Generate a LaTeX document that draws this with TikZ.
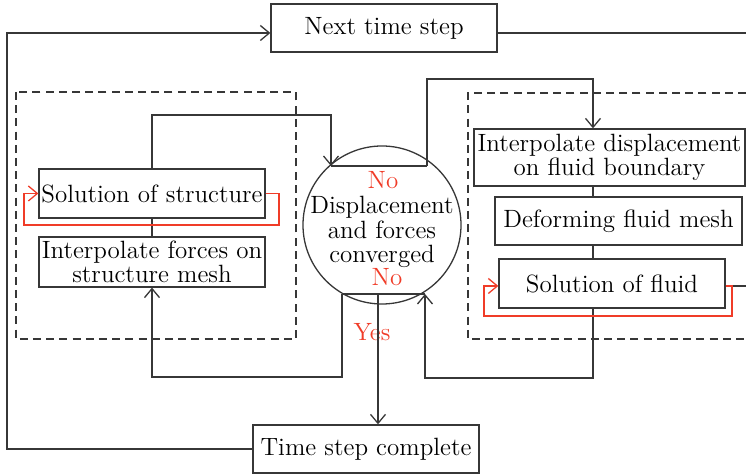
\documentclass[tikz,border=0pt]{standalone}
\usetikzlibrary{arrows.meta}
\definecolor{linec}{RGB}{55,55,55}
\definecolor{redc}{RGB}{240,60,40}
\tikzset{
  txt/.style={font=\fontsize{12.5}{12.2}\selectfont, align=center, inner sep=0pt},
  box/.style={txt, draw=linec, line width=0.65pt},
  conn/.style={draw=linec, line width=0.65pt},
  arr/.style={conn, -{Straight Barb[length=4.5pt,width=7.5pt]}},
  redarr/.style={draw=redc, line width=0.65pt, -{Straight Barb[length=4.5pt,width=7.5pt]}},
  dashbox/.style={draw=linec, line width=0.65pt, dash pattern=on 4pt off 2.6pt},
  redtxt/.style={txt, text=redc}
}
\begin{document}
\begin{tikzpicture}[x=0.5pt,y=-0.5pt]
\useasboundingbox (0,0) rectangle (746,475);
% dashed group frames
\draw[dashbox] (16,92) rectangle (296,339);
\draw[dashbox] (746,93) -- (468,93) -- (468,339) -- (746,339);
% nodes
\node[box, minimum width=113pt, minimum height=24pt] (next) at (384,28) {Next time step};
\node[box, minimum width=113pt, minimum height=24pt] (tsc) at (366,449) {Time step complete};
\node[box, minimum width=113pt, minimum height=24.5pt] (sos) at (152,193.5) {Solution of structure};
\node[box, minimum width=113pt, minimum height=25pt] (ifs) at (152,262) {Interpolate forces on\\structure mesh};
\node[box, minimum width=135.5pt, minimum height=28.5pt] (idisp) at (609.5,157.5) {Interpolate displacement\\on fluid boundary};
\node[box, minimum width=123.5pt, minimum height=24pt] (dfm) at (618.5,221) {Deforming fluid mesh};
\node[box, minimum width=113pt, minimum height=24.5pt] (sof) at (612,283.5) {Solution of fluid};
\node[circle, draw=linec, line width=0.65pt, minimum size=79pt, inner sep=0pt] (c) at (382,225) {};
\node[txt] (ctext) at (382,232) {Displacement\\and forces\\converged};
\node[redtxt] (noT) at (383,180) {No};
\node[redtxt] (noB) at (387,277) {No};
\node[redtxt] (yes) at (372,332) {Yes};
% helper coordinates
\coordinate (spine) at (593,0);
\coordinate (tL) at (331,166);
\coordinate (tR) at (427,166);
\coordinate (bL) at (342,294);
\coordinate (bR) at (425,294);
\coordinate (bM) at (378,294);
\coordinate (nin) at ([yshift=-2.5pt]next.west);
\coordinate (nout) at ([yshift=-2.5pt]next.east);
\coordinate (nR) at (746,33);
\coordinate (sR) at (746,286);
% chords in circle
\draw[conn] (tL) -- (tR);
\draw[conn] (bL) -- (bR);
% connectors
\draw[arr] (sos.north) |- (331,115) -- (tL);
\draw[arr] (tR) |- (593,79) -- (idisp.north -| spine);
\draw[conn] (idisp.south -| spine) -- (dfm.north -| spine);
\draw[conn] (dfm.south -| spine) -- (sof.north -| spine);
\draw[arr] (sof.south -| spine) |- (425,378) -- (bR);
\draw[conn] (sos.south) -- (ifs.north);
\draw[arr] (bL) |- (152,377) -- (ifs.south);
\draw[arr] (bM) -- (tsc.north -| bM);
\draw[arr] (tsc.west) -| (7,33) -- (nin);
\draw[conn] (nout) -- (nR);
\draw[conn] (732,286) -- (sR);
% red iteration loops
\draw[redarr] (sos.east) -- (279,193.5) -- (279,225) -- (24,225) -- (24,193.5) -- (sos.west);
\draw[redarr] ([yshift=-1.25pt]sof.east) -- (732,286) -- (732,316) -- (484,316) -- (484,286) -- ([yshift=-1.25pt]sof.west);
\end{tikzpicture}
\end{document}
